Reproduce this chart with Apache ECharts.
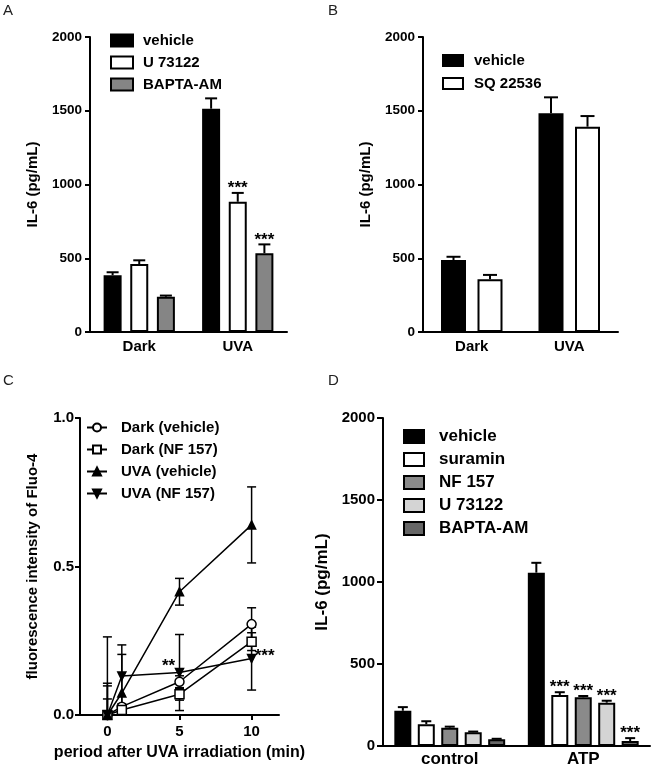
<!DOCTYPE html>
<html><head><meta charset="utf-8">
<script src="https://cdn.jsdelivr.net/npm/echarts@6/dist/echarts.min.js"></script>
<style>html,body{margin:0;padding:0;background:#fff}#c{width:651px;height:768px}</style>
</head><body><div id="c"></div>
<script>
// ---------- data ----------
const catsAB = ['Dark', 'UVA'];
const aVehicle = [385, 1514], aVehicleErr = [20, 70];
const aU73122 = [461, 883], aU73122Err = [25, 60], aU73122Stars = ['', '***'];
const aBapta = [239, 534], aBaptaErr = [8, 60], aBaptaStars = ['', '***'];

const bVehicle = [488, 1483], bVehicleErr = [22, 108];
const bSQ = [357, 1392], bSQErr = [30, 72];

const cTimes = [0, 1, 5, 10];
const cDarkVeh = [0, 0.028, 0.112, 0.306], cDarkVehErr = [0.054, 0.01, 0.02, 0.055];
const cDarkNF = [0, 0.017, 0.07, 0.247], cDarkNFErr = [0.098, 0.01, 0.02, 0.03];
const cUvaVeh = [0, 0.074, 0.415, 0.64], cUvaVehErr = [0.107, 0.13, 0.045, 0.128];
const cUvaNF = [0, 0.131, 0.143, 0.19], cUvaNFErr = [0.263, 0.105, 0.128, 0.106];
const cXTicks = [0, 5, 10];
const cStars = ['**', '***'];

const catsD = ['control', 'ATP'];
const dVehicle = [215, 1057], dVehicleErr = [22, 60];
const dSuramin = [133, 311], dSuraminErr = [18, 17], dSuraminStars = ['', '***'];
const dNF = [112, 297], dNFErr = [6, 8], dNFStars = ['', '***'];
const dU = [84, 264], dUErr = [4, 12], dUStars = ['', '***'];
const dBapta = [41, 30], dBaptaErr = [3, 18], dBaptaStars = ['', '***'];

// ---------- helpers ----------
const FONT = '"Liberation Sans", Arial, Helvetica, sans-serif';
const bold = (fs) => ({ color: '#000', fontWeight: 'bold', fontSize: fs, fontFamily: FONT });
const axLine = { show: true, onZero: false, lineStyle: { color: '#000', width: 2 } };
const plain = (v) => String(v);

function catX(gi, cats, fs, margin) {
  return { gridIndex: gi, type: 'category', data: cats, axisLine: axLine,
    axisTick: { show: false }, axisLabel: Object.assign(bold(fs), { margin: margin }) };
}
function valY(gi, max, interval, fs, margin, name, nameFs, gap, tickLen, fmt) {
  return { gridIndex: gi, type: 'value', min: 0, max: max, interval: interval,
    axisLine: axLine, splitLine: { show: false },
    axisTick: { show: true, length: tickLen, lineStyle: { color: '#000', width: 2 } },
    axisLabel: Object.assign(bold(fs), { margin: margin, formatter: fmt || plain }),
    name: name, nameLocation: 'middle', nameGap: gap, nameRotate: 90,
    nameTextStyle: bold(nameFs) };
}
function bar(gi, name, data, color, barW, gap) {
  return { type: 'bar', name: name, xAxisIndex: gi, yAxisIndex: gi, data: data,
    barWidth: barW, barGap: gap, z: 2,
    itemStyle: { color: color, borderColor: '#000', borderWidth: 2 } };
}
function barErr(gi, vals, errs, stars, i, n, barW, gapRatio, capW, fs) {
  return { type: 'custom', xAxisIndex: gi, yAxisIndex: gi, z: 5, silent: true,
    data: vals.map((v, k) => [k, v, errs[k]]),
    renderItem: (params, api) => {
      const k = api.value(0), v = api.value(1), e = api.value(2);
      const off = (i - (n - 1) / 2) * barW * (1 + gapRatio);
      const p0 = api.coord([k, v]), p1 = api.coord([k, v + e]);
      const x = p0[0] + off;
      const ch = [
        { type: 'line', shape: { x1: x, y1: p0[1], x2: x, y2: p1[1] }, style: { stroke: '#000', lineWidth: 2 } },
        { type: 'line', shape: { x1: x - capW / 2, y1: p1[1], x2: x + capW / 2, y2: p1[1] }, style: { stroke: '#000', lineWidth: 2 } }
      ];
      const s = stars && stars[params.dataIndex];
      if (s) ch.push({ type: 'text', style: { text: s, x: x, y: p1[1] + 4, align: 'center', verticalAlign: 'bottom',
        fontSize: fs, fontWeight: 'bold', fontFamily: FONT, fill: '#000' } });
      return { type: 'group', children: ch };
    } };
}
function lineSer(name, vals, symbol, size, fill, rotate) {
  return { type: 'line', name: name, xAxisIndex: 2, yAxisIndex: 2,
    data: cTimes.map((t, k) => [t, vals[k]]), symbol: symbol, symbolSize: size, symbolRotate: rotate || 0,
    lineStyle: { color: '#000', width: 1.5 }, z: 4,
    itemStyle: { color: fill, borderColor: '#000', borderWidth: 1.5 } };
}
function lineErr(vals, errs) {
  return { type: 'custom', xAxisIndex: 2, yAxisIndex: 2, z: 3, clip: true, silent: true,
    data: cTimes.map((t, k) => [t, vals[k], errs[k]]),
    renderItem: (params, api) => {
      const t = api.value(0), v = api.value(1), e = api.value(2);
      const pt = api.coord([t, v + e]), pb = api.coord([t, v - e]);
      const x = pt[0], cw = 9;
      const st = { stroke: '#000', lineWidth: 1.5 };
      return { type: 'group', children: [
        { type: 'line', shape: { x1: x, y1: pt[1], x2: x, y2: pb[1] }, style: st },
        { type: 'line', shape: { x1: x - cw / 2, y1: pt[1], x2: x + cw / 2, y2: pt[1] }, style: st },
        { type: 'line', shape: { x1: x - cw / 2, y1: pb[1], x2: x + cw / 2, y2: pb[1] }, style: st }
      ] };
    } };
}
function legend(left, top, names, iw, ih, gap, fs, pad, icon) {
  const l = { left: left, top: top, orient: 'vertical', data: names, itemWidth: iw, itemHeight: ih,
    itemGap: gap, selectedMode: false, padding: 0, formatter: (n) => n.split('|')[1],
    textStyle: Object.assign(bold(fs), { lineHeight: 14, padding: [0, 0, 0, pad] }) };
  if (icon) l.icon = icon;
  return l;
}
const panelTitle = (t, l, tp) => ({ text: t, left: l, top: tp, padding: 0,
  textStyle: { fontSize: 15, fontWeight: 'normal', color: '#222', fontFamily: FONT } });

// ---------- layout constants ----------
const AW = 18, AG = 0.48, BW = 25, BG = 0.46, DW = 17, DG = 0.38;

const option = {
  animation: false,
  backgroundColor: '#fff',
  title: [panelTitle('A', 3, 3), panelTitle('B', 328, 3), panelTitle('C', 3, 373), panelTitle('D', 328, 373)],
  grid: [
    { left: 90, top: 37, width: 197, height: 295 },
    { left: 423, top: 37, width: 195, height: 295 },
    { left: 80, top: 418, width: 199, height: 297 },
    { left: 383, top: 418, width: 267, height: 328 }
  ],
  xAxis: [
    catX(0, catsAB, 15, 7),
    catX(1, catsAB, 15, 7),
    { gridIndex: 2, type: 'value', min: -1.9, max: 11.9, axisLine: axLine, splitLine: { show: false },
      axisTick: { show: true, length: 5, customValues: cXTicks, lineStyle: { color: '#000', width: 2 } },
      axisLabel: Object.assign(bold(15), { margin: 9, customValues: cXTicks }),
      name: 'period after UVA irradiation (min)', nameLocation: 'middle', nameGap: 30, nameTextStyle: bold(16) },
    catX(3, catsD, 17, 5)
  ],
  yAxis: [
    valY(0, 2000, 500, 13.5, 8, 'IL-6 (pg/mL)', 15, 50, 5),
    valY(1, 2000, 500, 13.5, 8, 'IL-6 (pg/mL)', 15, 50, 5),
    valY(2, 1, 0.5, 15, 6, 'fluorescence intensity of Fluo-4', 15, 40, 5, (v) => v.toFixed(1)),
    valY(3, 2000, 500, 15, 8, 'IL-6 (pg/mL)', 17, 52, 6)
  ],
  legend: [
    legend(110, 33, ['A|vehicle', 'A|U 73122', 'A|BAPTA-AM'], 22, 12, 7, 15, 5, 'rect'),
    legend(442, 53, ['B|vehicle', 'B|SQ 22536'], 20, 11, 8, 15, 6, 'rect'),
    legend(86, 420, ['C|Dark (vehicle)', 'C|Dark (NF 157)', 'C|UVA (vehicle)', 'C|UVA (NF 157)'], 20, 10, 7, 15, 9),
    legend(403, 428, ['D|vehicle', 'D|suramin', 'D|NF 157', 'D|U 73122', 'D|BAPTA-AM'], 20, 13, 6, 17, 10, 'rect')
  ],
  series: [
    bar(0, 'A|vehicle', aVehicle, '#000', AW, AG),
    bar(0, 'A|U 73122', aU73122, '#fff', AW, AG),
    bar(0, 'A|BAPTA-AM', aBapta, '#858585', AW, AG),
    barErr(0, aVehicle, aVehicleErr, null, 0, 3, AW, AG, 12, 17),
    barErr(0, aU73122, aU73122Err, aU73122Stars, 1, 3, AW, AG, 12, 17),
    barErr(0, aBapta, aBaptaErr, aBaptaStars, 2, 3, AW, AG, 12, 17),

    bar(1, 'B|vehicle', bVehicle, '#000', BW, BG),
    bar(1, 'B|SQ 22536', bSQ, '#fff', BW, BG),
    barErr(1, bVehicle, bVehicleErr, null, 0, 2, BW, BG, 14, 17),
    barErr(1, bSQ, bSQErr, null, 1, 2, BW, BG, 14, 17),

    lineErr(cDarkVeh, cDarkVehErr),
    lineErr(cDarkNF, cDarkNFErr),
    lineErr(cUvaVeh, cUvaVehErr),
    lineErr(cUvaNF, cUvaNFErr),
    lineSer('C|Dark (vehicle)', cDarkVeh, 'circle', 9, '#fff'),
    lineSer('C|Dark (NF 157)', cDarkNF, 'rect', 9, '#fff'),
    lineSer('C|UVA (vehicle)', cUvaVeh, 'triangle', 8, '#000'),
    lineSer('C|UVA (NF 157)', cUvaNF, 'triangle', 8, '#000', 180),
    { type: 'custom', xAxisIndex: 2, yAxisIndex: 2, z: 6, silent: true,
      data: [[cTimes[2], cUvaNF[2]], [cTimes[3], cUvaNF[3]]],
      renderItem: (params, api) => {
        const p = api.coord([api.value(0), api.value(1)]);
        const off = params.dataIndex === 0 ? [-11, 2] : [13, 6];
        return { type: 'text', style: { text: cStars[params.dataIndex], x: p[0] + off[0], y: p[1] + off[1],
          align: 'center', verticalAlign: 'bottom', fontSize: 17, fontWeight: 'bold', fontFamily: FONT, fill: '#000' } };
      } },

    bar(3, 'D|vehicle', dVehicle, '#000', DW, DG),
    bar(3, 'D|suramin', dSuramin, '#fff', DW, DG),
    bar(3, 'D|NF 157', dNF, '#8a8a8a', DW, DG),
    bar(3, 'D|U 73122', dU, '#d4d4d4', DW, DG),
    bar(3, 'D|BAPTA-AM', dBapta, '#666666', DW, DG),
    barErr(3, dVehicle, dVehicleErr, null, 0, 5, DW, DG, 10, 17),
    barErr(3, dSuramin, dSuraminErr, dSuraminStars, 1, 5, DW, DG, 10, 17),
    barErr(3, dNF, dNFErr, dNFStars, 2, 5, DW, DG, 10, 17),
    barErr(3, dU, dUErr, dUStars, 3, 5, DW, DG, 10, 17),
    barErr(3, dBapta, dBaptaErr, dBaptaStars, 4, 5, DW, DG, 10, 17)
  ]
};
const chart = echarts.init(document.getElementById('c'), null, { renderer: 'canvas' });
chart.setOption(option);
</script>
</body></html>
